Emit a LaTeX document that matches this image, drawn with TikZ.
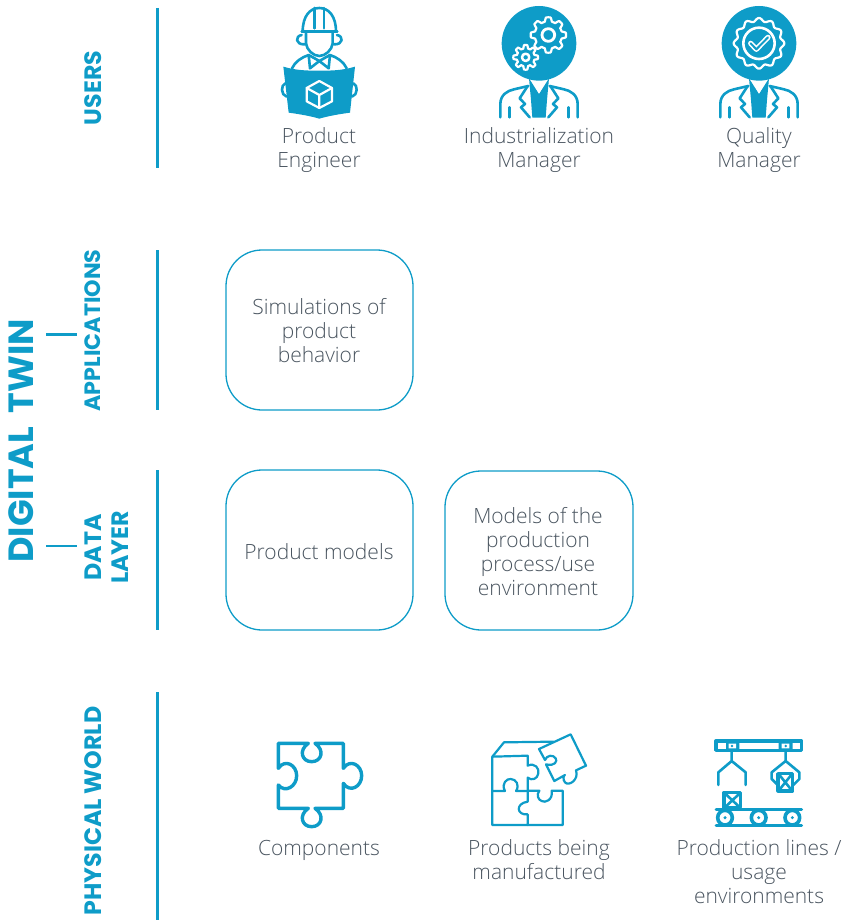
\documentclass[tikz,border=0pt]{standalone}
\usepackage{fontspec}
\setmainfont{Open Sans Light}
\newfontfamily\headfont{Poppins Bold}
\definecolor{tw}{HTML}{0E9CC8}
\definecolor{txt}{HTML}{4A5560}
\newcommand{\personbody}{%
  \draw[ic] (-116,352) -- (-116,312) .. controls (-116,285) and (-95,272) .. (-75,268) -- (-32,258);
  \draw[ic] (116,352) -- (116,312) .. controls (116,285) and (95,272) .. (75,268) -- (32,258);
  \draw[ic] (-88,352) -- (-88,322);
  \draw[ic] (88,352) -- (88,322);
  \draw[ic] (-34,258) -- (-58,295) -- (-42,312) -- (-54,322) -- (-28,352);
  \draw[ic] (34,258) -- (58,295) -- (42,312) -- (54,322) -- (28,352);
  \fill[tw] (-30,235) -- (0,282) -- (30,235) -- (24,300) -- (20,353) -- (-20,353) -- (-24,300) -- cycle;
  \fill[white] (-20,247) -- (0,280) -- (20,247) .. controls (8,243) and (-8,243) .. (-20,247) -- cycle;
}
\tikzset{
  x=1pt,y=-1pt,
  ic/.style={draw=tw,line width=2.6pt,line join=round,line cap=round},
  icw/.style={draw=white,line width=2.2pt,line join=round,line cap=round},
  rule/.style={draw=tw,line width=2.4pt},
  card/.style={draw=tw,line width=1.3pt,rounded corners=36pt,fill=white},
  lab/.style={text=txt,font=\fontsize{21}{24}\selectfont,align=center,inner sep=0pt},
  side/.style={text=tw,font=\headfont\fontsize{23.7}{27}\selectfont,align=center,rotate=90,inner sep=0pt},
}
\begin{document}
\begin{tikzpicture}
\useasboundingbox (0,0) rectangle (842,920);
% rules
\draw[rule] (157.5,8) -- (157.5,168);
\draw[rule] (157.5,250) -- (157.5,410);
\draw[rule] (157.5,470) -- (157.5,630);
\draw[rule] (157.5,692) -- (157.5,920);
\draw[rule] (46,334.5) -- (77,334.5);
\draw[rule] (46,546) -- (77,546);
% side labels
\node[side] (users) at (93,88) {USERS};
\node[side,font=\headfont\fontsize{22.2}{27}\selectfont] (apps) at (93,330.5) {APPLICATIONS};
\node[side] (data) at (107,547.5) {DATA\\LAYER};
\node[side] (phys) at (93,811) {PHYSICAL WORLD};
\node[side,font=\headfont\fontsize{35}{40}\selectfont] (dt) at (21,441) {DIGITAL\hspace{6pt} TWIN};
% cards
\node[card,minimum width=187pt,minimum height=160pt] (c1) at (319.5,330) {};
\node[card,minimum width=187pt,minimum height=160pt] (c2) at (319.5,550) {};
\node[card,minimum width=188pt,minimum height=159pt] (c3) at (539,550.5) {};
\node[lab] (t1) at (319,331) {Simulations of\\product\\behavior};
\node[lab] (t2) at (319,552) {Product models};
\node[lab] (t3) at (538,552) {Models of the\\production\\process/use\\environment};
% captions
\node[lab] (u1) at (319,150.5) {Product\\Engineer};
\node[lab] (u2) at (539,150.5) {Industrialization\\Manager};
\node[lab] (u3) at (759,150.5) {Quality\\Manager};
\node[lab] (p1) at (319,850) {Components};
\node[lab] (p2) at (539,860) {Products being\\manufactured};
\node[lab] (p3) at (759,872) {Production lines /\\usage\\environments};
% engineer
\begin{scope}[shift={(260,0)},scale=1/3]
  \draw[ic] (128,95) .. controls (128,48) and (150,24) .. (178,24) .. controls (206,24) and (228,48) .. (228,95);
  \draw[ic] (164,24) -- (164,85) (192,24) -- (192,85);
  \draw[ic] (125,95) -- (232,95);
  \draw[ic] (125,105) .. controls (105,108) and (105,135) .. (135,133);
  \draw[ic] (231,105) .. controls (251,108) and (251,135) .. (221,133);
  \draw[ic] (138,100) -- (138,130) .. controls (140,150) and (160,168) .. (178,168) .. controls (196,168) and (216,150) .. (218,130) -- (218,100);
  \draw[ic] (96,205) .. controls (105,185) and (125,172) .. (146,165) -- (150,205) -- (178,183) -- (206,205) -- (210,165) .. controls (231,172) and (251,185) .. (260,205);
  \draw[ic] (178,183) -- (146,165) (178,183) -- (210,165);
  \fill[tw] (70,200) .. controls (110,212) and (145,212) .. (178,212) .. controls (211,212) and (246,212) .. (285,200) -- (270,338) .. controls (240,342) and (205,348) .. (178,356) .. controls (151,348) and (116,342) .. (86,338) -- cycle;
  \draw[ic] (76,250) .. controls (62,255) and (62,285) .. (80,290);
  \draw[ic] (280,250) .. controls (294,255) and (294,285) .. (276,290);
  \draw[icw] (178,243) -- (216,264) -- (216,304) -- (178,324) -- (140,304) -- (140,264) -- cycle;
  \draw[icw] (140,264) -- (178,285) -- (216,264) (178,285) -- (178,324);
\end{scope}
% industrialization manager
\begin{scope}[shift={(539,0)},scale=1/3]
  \fill[tw] (0,130) circle (112);
  \personbody
  \draw[icw] plot[domain=0:360,samples=181,shift={(28,105)}] (\x:{47+6*max(-1,min(1,2*cos(8*\x)))}) -- cycle;
  \draw[icw,line width=2.8pt] (28,105) circle (19);
  \draw[icw] plot[domain=0:360,samples=181,shift={(-40,172)}] (\x:{32+5*max(-1,min(1,2*cos(8*\x)))}) -- cycle;
  \draw[icw,line width=2.5pt] (-40,172) circle (11);
\end{scope}
% quality manager
\begin{scope}[shift={(759,0)},scale=1/3]
  \fill[tw] (0,130) circle (112);
  \personbody
  \draw[icw] plot[domain=0:360,samples=145,smooth,shift={(0,130)}] (\x:{71+5*cos(12*\x)}) -- cycle;
  \draw[icw,line width=2.6pt] (0,130) circle (47);
  \draw[draw=white,line width=5.2pt,line cap=round,line join=round] (-25,130) -- (-8,148) -- (27,112);
  \draw[draw=tw,line width=2pt,line cap=round,line join=round] (-25,130) -- (-8,148) -- (27,112);
\end{scope}
% components
\begin{scope}[shift={(260,725)},scale=1/3]
  \draw[ic,line width=3.4pt] (55,55) -- (145,55) .. controls (115,75) and (125,110) .. (155,110) .. controls (185,110) and (195,75) .. (165,55) -- (250,55) -- (250,130) .. controls (270,100) and (305,120) .. (305,152) .. controls (305,185) and (270,205) .. (250,175) -- (250,250) -- (165,250) .. controls (195,270) and (185,305) .. (155,305) .. controls (125,305) and (115,270) .. (145,250) -- (55,250) -- (55,180) .. controls (75,205) and (110,185) .. (110,152) .. controls (110,120) and (75,100) .. (55,130) -- cycle;
\end{scope}
% products being manufactured
\begin{scope}[shift={(260,725)},scale=1/3,ic/.append style={line width=2.2pt}]
  \draw[ic] (697,198) -- (697,95) -- (803,92) -- (803,122) .. controls (825,112) and (838,130) .. (835,145) .. controls (833,162) and (815,168) .. (803,158) -- (803,198);
  \draw[ic] (697,198) -- (735,198) .. controls (722,175) and (742,160) .. (752,162) .. controls (768,162) and (780,180) .. (768,198) -- (803,198);
  \draw[ic] (697,95) -- (732,52) -- (880,50);
  \draw[ic] (697,198) -- (697,300) -- (803,300) -- (803,268) .. controls (770,272) and (765,235) .. (803,230) -- (803,198);
  \draw[ic] (803,300) -- (908,300) -- (908,197) -- (875,197) .. controls (880,225) and (855,235) .. (845,228) .. controls (835,225) and (828,210) .. (838,197) -- (803,197);
  \draw[ic] (837,72) -- (932,28) -- (978,122) -- (948,136) .. controls (958,165) and (925,185) .. (915,172) .. controls (908,165) and (910,150) .. (915,150) -- (883,168) -- (858,118) .. controls (885,125) and (893,108) .. (887,100) .. controls (880,88) and (860,90) .. (855,105) -- cycle;
\end{scope}
% production line
\begin{scope}[shift={(700,725)},scale=1/3]
  \draw[ic,line width=3.4pt] (48,48) rectangle (305,76);
  \fill[tw] (78,46) rectangle (118,80) (236,46) rectangle (278,80);
  \fill[white] (86,56) rectangle (108,70) (245,56) rectangle (268,70);
  \fill[tw] (96,63) circle (4) (257,63) circle (4);
  \draw[ic] (95,80) -- (95,108) (55,180) -- (55,142) -- (95,108) -- (137,142) -- (137,180);
  \draw[ic] (257,80) -- (257,108) (233,180) -- (215,162) -- (215,142) -- (257,108) -- (298,142) -- (298,162) -- (280,180);
  \draw[ic,fill=white,line width=3.2pt] (234,146) rectangle (278,198);
  \draw[ic] (240,152) -- (272,192) (272,152) -- (240,192);
  \draw[ic,line width=3.2pt] (72,202) rectangle (122,248);
  \draw[ic] (80,210) -- (114,242) (114,210) -- (80,242);
  \draw[ic,line width=3pt] (48,252) -- (305,252) (48,302) -- (305,302);
  \foreach \cx in {75,176,277} {
    \draw[ic,fill=white,line width=3.6pt] (\cx,278) circle (22);
    \fill[tw] (\cx,278) circle (5);
  }
\end{scope}
\end{tikzpicture}
\end{document}
